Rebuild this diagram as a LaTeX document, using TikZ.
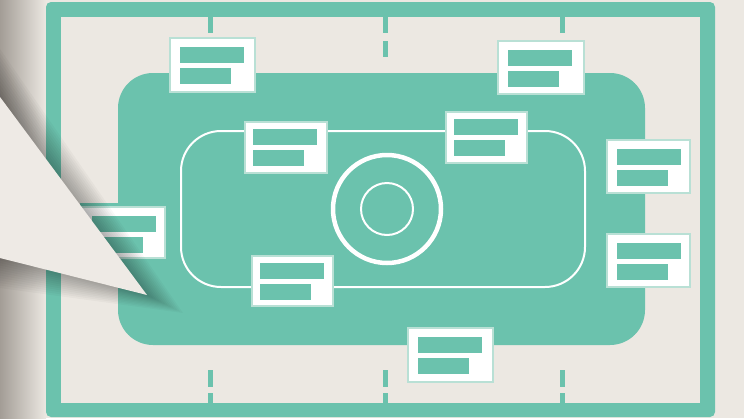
\documentclass[tikz,border=0pt]{standalone}
\usetikzlibrary{calc}
\definecolor{gm}{HTML}{6BC2AD}
\definecolor{bgc}{HTML}{ECE8E2}
\definecolor{pap}{HTML}{EEEAE5}
\definecolor{shd}{HTML}{A39D96}
\definecolor{gl}{HTML}{B9E0D5}
\tikzset{
  cardbox/.style={fill=white, draw=gl, line width=1.2pt, inner sep=0pt, outer sep=0pt, anchor=north west},
}
\newcommand\mycard[6]{% name, x, y, w, h, bar offset
  \node[cardbox, minimum width=#4pt, minimum height=#5pt] (#1) at (#2,#3) {};
  \fill[gm] ($(#1.north west)+(#6,#6-1)$) rectangle ++(64,16);
  \fill[gm] ($(#1.north west)+(#6,#6+20)$) rectangle ++(51,16);
}
\begin{document}
\begin{tikzpicture}[x=1pt,y=-1pt]
\useasboundingbox (0,0) rectangle (744,418);
\fill[bgc] (0,0) rectangle (744,418);
\shade[left color=shd, right color=bgc] (0,0) rectangle (46,418);
% frame
\fill[gm, rounded corners=5] (46,2) rectangle (715,417);
\fill[bgc] (61,17) rectangle (700,403);
% ticks
\foreach \x in {210,385,562} {
  \fill[gm] (\x-2.5,17) rectangle (\x+2.5,33);
  \fill[gm] (\x-2.5,370) rectangle (\x+2.5,387);
  \fill[gm] (\x-2.5,393) rectangle (\x+2.5,403);
}
\fill[gm] (382.5,41) rectangle (387.5,57);
% main rounded area
\fill[gm, rounded corners=35] (118,73) rectangle (645,345);
\fill[gm] (80,203) rectangle (118,212);
% stadium track
\draw[white, line width=2pt, rounded corners=40] (181,131) rectangle (585,287);
% centre rings
\node[circle, draw=white, line width=4.5pt, minimum size=108pt, inner sep=0pt] (outer) at (387,209) {};
\node[circle, draw=white, line width=2pt, minimum size=52pt, inner sep=0pt] (inner) at (387,209) {};
% cards
\mycard{c1}{170}{38}{85}{54}{10}
\mycard{c2}{498}{41}{86}{53}{10}
\mycard{c3}{245}{122}{82}{51}{8}
\mycard{c4}{446}{112}{81}{51}{8}
\mycard{c5}{252}{256}{81}{50}{8}
\mycard{c6}{607}{140}{83}{53}{10}
\mycard{c7}{607}{234}{83}{53}{10}
\mycard{c8}{408}{328}{85}{54}{10}
\mycard{c9}{82}{207}{83}{51}{10}
% shadow of the paper pointer
\foreach \i in {1,...,12} {
  \fill[black, opacity=0.026] (0,97-4*\i) -- (147+3*\i,295+1.5*\i) -- (0,258+2.5*\i) -- cycle;
}
% paper pointer
\fill[pap] (0,97) -- (147,295) -- (0,258) -- cycle;
\end{tikzpicture}
\end{document}
